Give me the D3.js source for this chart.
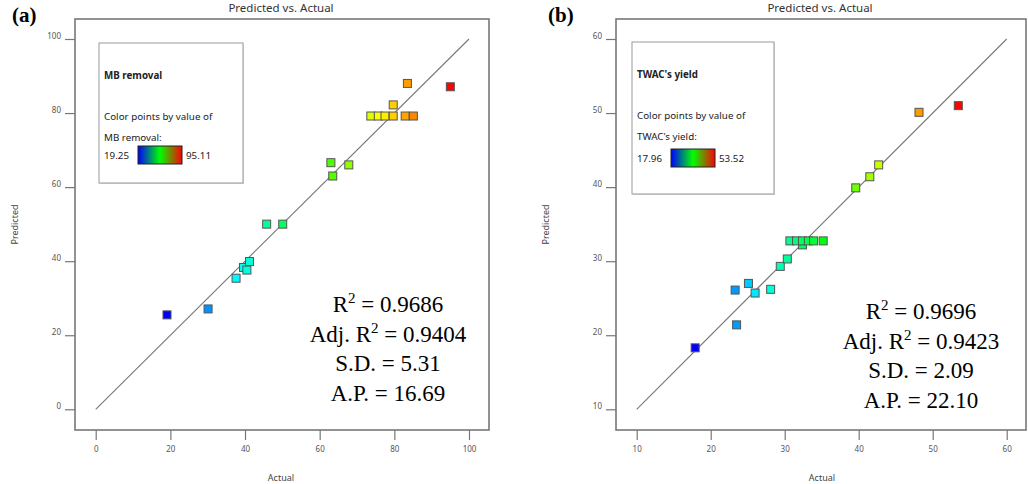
<!DOCTYPE html>
<html><head><meta charset="utf-8">
<script src="https://cdn.jsdelivr.net/npm/d3@7"></script>
<style>
body{margin:0;background:#fff;}
svg{display:block;}
</style></head>
<body>
<svg id="chart" width="1028" height="484"></svg>
<script>
// ---- Data ----
const actualA    = [19.1, 30.1, 37.6, 39.6, 40.5, 41.2, 45.8, 50.1, 63.0, 63.5, 67.8, 79.7, 83.5, 95.0, 73.7, 75.7, 77.5, 79.7, 82.9, 85.1];
const predictedA = [25.5, 27.1, 35.4, 38.3, 37.6, 39.9, 50.0, 50.0, 66.6, 63.0, 66.0, 82.2, 88.0, 87.1, 79.2, 79.2, 79.2, 79.2, 79.2, 79.2];
const ticksA = [0, 20, 40, 60, 80, 100];
const rangeA = [19.25, 95.11];
const statsA = ["0.9686", "0.9404", "5.31", "16.69"];

const actualB    = [17.9, 23.3, 23.5, 25.1, 26.0, 28.1, 29.4, 30.35, 32.4, 39.6, 41.5, 42.7, 48.15, 53.46, 30.7, 31.6, 32.4, 33.2, 33.9, 35.2];
const predictedB = [18.3, 26.1, 21.4, 27.0, 25.7, 26.2, 29.3, 30.3, 32.2, 39.9, 41.4, 43.0, 50.1, 51.0, 32.74, 32.74, 32.74, 32.74, 32.74, 32.74];
const ticksB = [10, 20, 30, 40, 50, 60];
const rangeB = [17.96, 53.52];
const statsB = ["0.9696", "0.9423", "2.09", "22.10"];

const svg = d3.select("#chart");
const defs = svg.append("defs");
const grad = defs.append("linearGradient").attr("id", "cbar");
[["0%", "#0000ff"], ["50%", "#00ff00"], ["100%", "#ff0000"]].forEach(s =>
  grad.append("stop").attr("offset", s[0]).attr("stop-color", s[1]));

function drawPanel(o) {
  const g = svg.append("g");
  const x = d3.scaleLinear().domain(o.domain).range([o.x0, o.x1]);
  const y = d3.scaleLinear().domain(o.domain).range([o.y0, o.y1]);
  const hue = d3.scaleLinear().domain(o.range).range([240, 0]).clamp(true);

  // panel letter
  g.append("text").attr("x", o.letterX).attr("y", 22)
    .attr("font-family", "Liberation Serif, Times New Roman, serif")
    .attr("font-weight", "bold").attr("font-size", 21).attr("fill", "#000")
    .text(o.letter);
  // title
  g.append("text").attr("x", o.titleX).attr("y", 12).attr("text-anchor", "middle")
    .attr("font-family", "Noto Sans, sans-serif").attr("font-size", 11.5).attr("fill", "#333")
    .text("Predicted vs. Actual");

  // frame
  g.append("rect").attr("x", o.fl).attr("y", o.ft)
    .attr("width", o.fr - o.fl).attr("height", o.fb - o.ft)
    .attr("fill", "#fff").attr("stroke", "#777").attr("stroke-width", 1.6);

  // axes
  const xAxis = d3.axisBottom(x).tickValues(o.ticks).tickSize(10).tickPadding(6);
  const gx = g.append("g").attr("transform", `translate(0,${o.fb})`).call(xAxis);
  const yAxis = d3.axisLeft(y).tickValues(o.ticks).tickSize(10).tickPadding(4);
  const gy = g.append("g").attr("transform", `translate(${o.fl},0)`).call(yAxis);
  [gx, gy].forEach(a => {
    a.select(".domain").remove();
    a.selectAll("line").attr("stroke", "#777").attr("stroke-width", 1.2);
    a.selectAll("text").attr("font-family", "Noto Sans, sans-serif").attr("font-size", 8).attr("fill", "#555");
  });
  gy.selectAll("text").attr("dy", "-0.1em");

  g.append("text").attr("x", o.actualX).attr("y", 481).attr("text-anchor", "middle")
    .attr("font-family", "Noto Sans, sans-serif").attr("font-size", 9).attr("fill", "#444")
    .text("Actual");
  g.append("text").attr("transform", `translate(${o.predX},${(o.ft + o.fb) / 2}) rotate(-90)`)
    .attr("text-anchor", "middle")
    .attr("font-family", "Noto Sans, sans-serif").attr("font-size", 9).attr("fill", "#444")
    .text("Predicted");

  // diagonal
  g.append("line")
    .attr("x1", x(o.domain[0])).attr("y1", y(o.domain[0]))
    .attr("x2", x(o.domain[1])).attr("y2", y(o.domain[1]))
    .attr("stroke", "#777").attr("stroke-width", 1.1);

  // legend box
  const lb = o.legend;
  g.append("rect").attr("x", lb.x + 1).attr("y", lb.y + 1).attr("width", lb.w).attr("height", lb.h)
    .attr("fill", "#ddd");
  g.append("rect").attr("x", lb.x).attr("y", lb.y).attr("width", lb.w).attr("height", lb.h)
    .attr("fill", "#fff").attr("stroke", "#999").attr("stroke-width", 1);
  const lt = (t, ty, bold, tx) => g.append("text").attr("x", tx).attr("y", ty)
    .attr("font-family", "Noto Sans, sans-serif").attr("font-size", 9.8)
    .attr("font-weight", bold ? "bold" : "normal").attr("fill", "#222").text(t);
  lt(o.name, lb.y + 36, true, lb.x + 5);
  lt("Color points by value of", lb.y + 77, false, lb.x + 5);
  lt(o.name + ":", lb.y + 98, false, lb.x + 5);
  lt(d3.format(".2f")(o.range[0]), lb.cbY + 13, false, lb.x + 5);
  g.append("rect").attr("x", lb.cbX).attr("y", lb.cbY).attr("width", lb.cbW).attr("height", 18)
    .attr("fill", "url(#cbar)").attr("stroke", "#222").attr("stroke-width", 1);
  lt(d3.format(".2f")(o.range[1]), lb.cbY + 13, false, lb.cbX + lb.cbW + 4);

  // points
  const pts = o.actual.map((a, i) => ({a, p: o.predicted[i]}));
  g.selectAll("rect.pt").data(pts).join("rect").attr("class", "pt")
    .attr("x", d => x(d.a) - 4).attr("y", d => y(d.p) - 4)
    .attr("width", 8).attr("height", 8)
    .attr("fill", d => d3.hsl(hue(d.a), 1, 0.5).toString())
    .attr("stroke", "#555").attr("stroke-width", 1);

  // stats
  const st = g.append("g").attr("font-family", "Liberation Serif, Times New Roman, serif")
    .attr("font-size", 23).attr("fill", "#000").attr("text-anchor", "middle");
  const lines = [["R", "2", " = " + o.stats[0]], ["Adj. R", "2", " = " + o.stats[1]],
                 ["S.D. = " + o.stats[2]], ["A.P. = " + o.stats[3]]];
  lines.forEach((l, i) => {
    const t = st.append("text").attr("x", o.statX).attr("y", o.statY + i * 29.5);
    t.append("tspan").text(l[0]);
    if (l.length > 1) {
      t.append("tspan").attr("dy", -9).attr("font-size", 15).text(l[1]);
      t.append("tspan").attr("dy", 9).text(l[2]);
    }
  });
}

drawPanel({
  letter: "(a)", letterX: 12, titleX: 281, actualX: 281, predX: 18,
  domain: [0, 100], x0: 95.7, x1: 469, y0: 409.3, y1: 39,
  fl: 75, fr: 489, ft: 19, fb: 430, ticks: ticksA,
  actual: actualA, predicted: predictedA, range: rangeA, name: "MB removal",
  legend: {x: 99, y: 43, w: 144, h: 140, cbX: 138, cbY: 146, cbW: 44},
  stats: statsA, statX: 388, statY: 312
});
drawPanel({
  letter: "(b)", letterX: 548, titleX: 820, actualX: 822, predX: 549,
  domain: [10, 60], x0: 636.7, x1: 1006.7, y0: 409.3, y1: 39,
  fl: 616, fr: 1026, ft: 19, fb: 430, ticks: ticksB,
  actual: actualB, predicted: predictedB, range: rangeB, name: "TWAC's yield",
  legend: {x: 632, y: 42, w: 142, h: 152, cbX: 671, cbY: 149, cbW: 44},
  stats: statsB, statX: 921, statY: 319
});
</script>
</body></html>
